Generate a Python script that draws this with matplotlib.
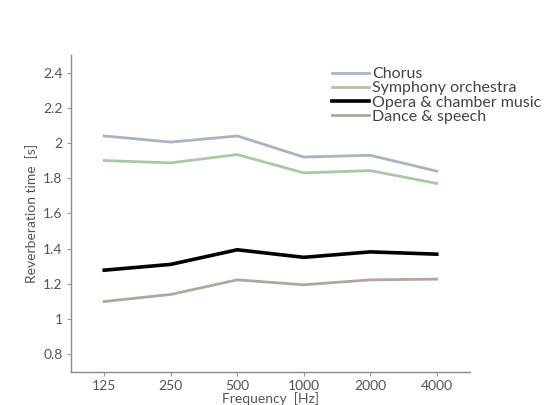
import matplotlib
matplotlib.use("Agg")
import matplotlib.pyplot as plt

freqs = ["125", "250", "500", "1000", "2000", "4000"]
chorus = [2.04, 2.005, 2.04, 1.92, 1.93, 1.84]
symphony = [1.90, 1.887, 1.934, 1.83, 1.843, 1.77]
opera = [1.277, 1.31, 1.393, 1.35, 1.381, 1.368]
dance = [1.099, 1.139, 1.222, 1.194, 1.222, 1.226]
yticks = [0.8, 1.0, 1.2, 1.4, 1.6, 1.8, 2.0, 2.2, 2.4]
ytick_labels = ["0.8", "1", "1.2", "1.4", "1.6", "1.8", "2", "2.2", "2.4"]

plt.rcParams['font.family'] = ['Lato', 'DejaVu Sans']

fig = plt.figure(figsize=(5.57, 4.05), dpi=100)
ax = fig.add_axes([71/557, 1-371.7/405, (470-71)/557, (371.7-55)/405])

x = list(range(len(freqs)))
ax.plot(x, chorus, color="#a8b3c6", lw=2, label="Chorus")
ax.plot(x, symphony, color="#a9c8a6", lw=2, label="Symphony orchestra")
ax.plot(x, opera, color="#000000", lw=2.6, label="Opera & chamber music")
ax.plot(x, dance, color="#b1a89d", lw=2, label="Dance & speech")

ax.set_xlim(-0.5, 5.5)
ax.set_ylim(0.7, 2.5)
ax.set_xticks(x)
ax.set_xticklabels(freqs)
ax.set_yticks(yticks)
ax.set_yticklabels(ytick_labels)

for s in ["top", "right"]:
    ax.spines[s].set_visible(False)
for s in ["left", "bottom"]:
    ax.spines[s].set_color("#8a8a8a")
    ax.spines[s].set_linewidth(1.0)
ax.tick_params(colors="#9a9a9a", labelcolor="#555555", length=3, width=0.8,
               labelsize=10, pad=3)

ax.set_ylabel("Reverberation time  [s]", color="#555555", fontsize=10, labelpad=4)
ax.set_xlabel("Frequency  [Hz]", color="#555555", fontsize=10, labelpad=0)

leg = ax.legend(loc="upper left", bbox_to_anchor=((332-71)/399, 0.962), frameon=False,
                fontsize=11.5, handlelength=2.3, handletextpad=0.2, labelspacing=0.0,
                borderaxespad=0, borderpad=0)
for t in leg.get_texts():
    t.set_color("#444444")

fig.savefig("out.png", dpi=100, facecolor="white")
